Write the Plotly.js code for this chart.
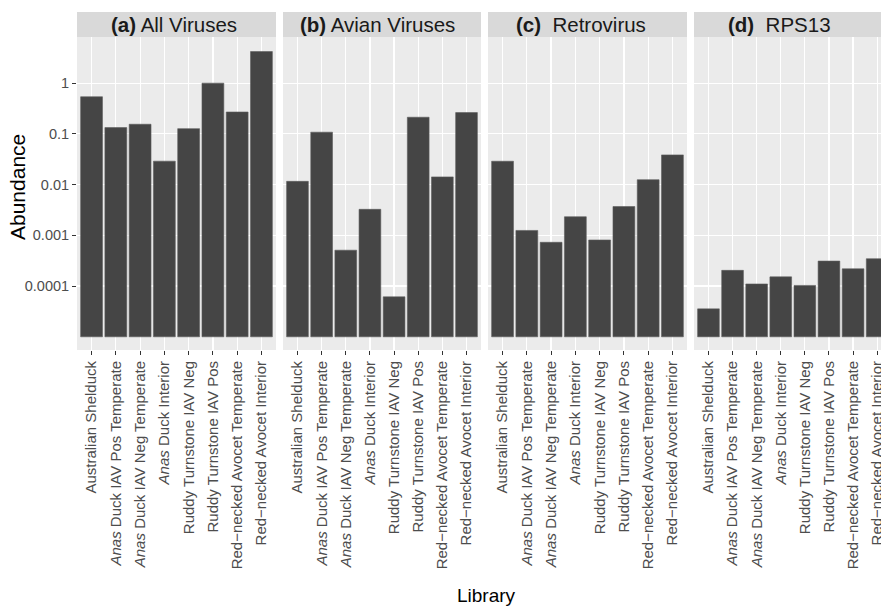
<!DOCTYPE html>
<html>
<head>
<meta charset="utf-8">
<script src="https://cdn.plot.ly/plotly-3.0.1.min.js"></script>
<style>html,body{margin:0;padding:0;background:#fff;}#chart{width:881px;height:606px;}</style>
</head>
<body>
<div id="chart"></div>
<script>
// ---- data ----
const categories = [
  "Australian Shelduck",
  "<i>Anas</i> Duck IAV Pos Temperate",
  "<i>Anas</i> Duck IAV Neg Temperate",
  "<i>Anas</i> Duck Interior",
  "Ruddy Turnstone IAV Neg",
  "Ruddy Turnstone IAV Pos",
  "Red\u2212necked Avocet Temperate",
  "Red\u2212necked Avocet Interior"
];
const panelTitles = [
  "<b>(a)</b> All Viruses",
  "<b>(b)</b> Avian Viruses",
  "<b>(c)</b>\u00a0 Retrovirus",
  "<b>(d)</b>\u00a0 RPS13"
];
const allViruses   = [0.54, 0.133, 0.155, 0.029, 0.127, 1.0, 0.27, 4.2];
const avianViruses = [0.0116, 0.108, 0.00051, 0.00326, 0.0000615, 0.213, 0.0142, 0.263];
const retrovirus   = [0.0289, 0.00125, 0.00073, 0.00233, 0.00081, 0.0037, 0.0125, 0.0385];
const rps13        = [0.0000356, 0.000204, 0.00011, 0.000152, 0.000103, 0.000311, 0.000219, 0.000346];
const yTickVals  = [0.0001, 0.001, 0.01, 0.1, 1];
const yTickText  = ["0.0001", "0.001", "0.01", "0.1", "1"];
const barBase = 0.00001;
</script>
<script>
const series = [allViruses, avianViruses, retrovirus, rps13];

const W = 881, H = 606;
const panelPx = [[77, 276], [283, 481], [488, 687], [694, 881]];
const plotTop = 37, plotBot = 350, stripTop = 12;
const xRanges = [[-0.6, 7.6], [-0.6, 7.6], [-0.6, 7.6], [-0.6, -0.6 + (881 - 694) / 24.1]];
const stripCenters = [174, 377, 581, 779];
const FONT = "Liberation Sans, Arial, Helvetica, sans-serif";
const idx = categories.map((c, i) => i);

const traces = series.map((vals, k) => ({
  type: "bar",
  x: idx,
  y: vals.map(v => v - barBase),
  base: barBase,
  xaxis: k === 0 ? "x" : "x" + (k + 1),
  yaxis: k === 0 ? "y" : "y" + (k + 1),
  width: 0.9,
  marker: { color: "#454545", line: { color: "#5c5c5c", width: 0.6 } },
  hoverinfo: "skip",
  showlegend: false
}));

const layout = {
  width: W, height: H,
  margin: { l: 0, r: 0, t: 0, b: 0 },
  paper_bgcolor: "#ffffff",
  plot_bgcolor: "#EBEBEB",
  font: { family: FONT, color: "#4D4D4D" },
  showlegend: false,
  shapes: [],
  annotations: []
};

const yDom = [1 - plotBot / H, 1 - plotTop / H];
panelPx.forEach((p, k) => {
  const sfx = k === 0 ? "" : String(k + 1);
  layout["xaxis" + sfx] = {
    domain: [p[0] / W, p[1] / W],
    anchor: "y" + sfx,
    range: xRanges[k],
    tickmode: "array",
    tickvals: idx,
    ticktext: categories,
    tickangle: -90,
    ticks: "outside", ticklen: 4, tickwidth: 1, tickcolor: "#333333",
    ticklabeloverflow: "allow",
    tickfont: { size: 15, color: "#4D4D4D", family: FONT },
    showgrid: true, gridcolor: "#ffffff", gridwidth: 1.2,
    zeroline: false, showline: false, fixedrange: true, automargin: false
  };
  const ya = {
    domain: yDom,
    anchor: "x" + sfx,
    type: "log",
    range: [-5.26, 0.91],
    tickmode: "array",
    tickvals: yTickVals,
    ticktext: yTickText,
    showgrid: true, gridcolor: "#ffffff", gridwidth: 1.2,
    zeroline: false, showline: false, fixedrange: true, automargin: false
  };
  if (k === 0) {
    Object.assign(ya, {
      ticks: "outside", ticklen: 4, tickwidth: 1, tickcolor: "#333333",
      tickfont: { size: 14.5, color: "#4D4D4D", family: FONT }
    });
  } else {
    Object.assign(ya, { matches: "y", showticklabels: false, ticks: "" });
  }
  layout["yaxis" + sfx] = ya;

  layout.shapes.push({
    type: "rect", xref: "paper", yref: "paper", layer: "below",
    x0: p[0] / W, x1: p[1] / W, y0: 1 - plotTop / H, y1: 1 - stripTop / H,
    fillcolor: "#D9D9D9", line: { width: 0 }
  });
  layout.annotations.push({
    xref: "paper", yref: "paper",
    x: stripCenters[k] / W, y: 1 - ((plotTop + stripTop) / 2) / H,
    xanchor: "center", yanchor: "middle",
    text: panelTitles[k], showarrow: false,
    font: { size: 20.5, color: "#1A1A1A", family: FONT }
  });
});

layout.annotations.push({
  xref: "paper", yref: "paper", x: 17 / W, y: 1 - 187 / H,
  xanchor: "center", yanchor: "middle", textangle: -90,
  text: "Abundance", showarrow: false,
  font: { size: 21, color: "#000000", family: FONT }
});
layout.annotations.push({
  xref: "paper", yref: "paper", x: 486 / W, y: 1 - 595 / H,
  xanchor: "center", yanchor: "middle",
  text: "Library", showarrow: false,
  font: { size: 19, color: "#000000", family: FONT }
});

Plotly.newPlot("chart", traces, layout, { displayModeBar: false, staticPlot: true });
</script>
</body>
</html>
